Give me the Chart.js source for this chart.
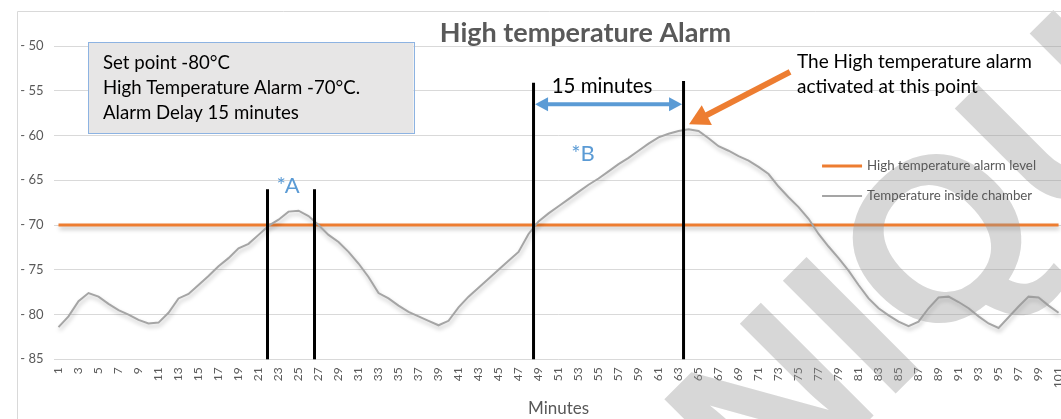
<!DOCTYPE html>
<html>
<head>
<meta charset="utf-8">
<script src="https://cdn.jsdelivr.net/npm/chart.js@4.4.1/dist/chart.umd.min.js"></script>
<style>
  html, body { margin: 0; padding: 0; background: #fff; overflow: hidden; }
  #wrap { width: 1061px; height: 419px; overflow: hidden; position: relative; }
  #chart { position: absolute; left: 0; top: 0; }
</style>
</head>
<body>
<div id="wrap"><canvas id="chart" width="1081" height="419"></canvas></div>
<script>
const minutes = [
  1, 2, 3, 4, 5, 6, 7, 8, 9, 10, 11, 12, 13, 14, 15, 16, 17, 18, 19, 20,
  21, 22, 23, 24, 25, 26, 27, 28, 29, 30, 31, 32, 33, 34, 35, 36, 37, 38, 39, 40,
  41, 42, 43, 44, 45, 46, 47, 48, 49, 50, 51, 52, 53, 54, 55, 56, 57, 58, 59, 60,
  61, 62, 63, 64, 65, 66, 67, 68, 69, 70, 71, 72, 73, 74, 75, 76, 77, 78, 79, 80,
  81, 82, 83, 84, 85, 86, 87, 88, 89, 90, 91, 92, 93, 94, 95, 96, 97, 98, 99, 100,
  101
];

const chamberTemp = [
  -81.4, -80.2, -78.5, -77.6, -78.0, -78.8, -79.5, -80.0, -80.6, -81.0,
  -80.9, -79.8, -78.2, -77.7, -76.7, -75.7, -74.6, -73.7, -72.6, -72.1,
  -71.1, -70.1, -69.4, -68.5, -68.4, -69.0, -70.0, -71.1, -71.9, -73.0,
  -74.3, -75.8, -77.6, -78.2, -79.0, -79.7, -80.2, -80.7, -81.2, -80.7,
  -79.2, -78.0, -77.0, -76.0, -75.0, -74.0, -73.0, -71.0, -69.6, -68.7,
  -67.9, -67.1, -66.3, -65.5, -64.8, -64.0, -63.2, -62.5, -61.7, -60.9,
  -60.2, -59.8, -59.5, -59.3, -59.5, -60.3, -61.2, -61.7, -62.3, -62.8,
  -63.5, -64.3, -65.7, -66.9, -68.0, -69.3, -71.0, -72.4, -73.7, -75.1,
  -76.7, -78.2, -79.3, -80.1, -80.8, -81.3, -80.8, -79.3, -78.1, -78.0,
  -78.6, -79.3, -80.2, -81.0, -81.5, -80.3, -79.1, -78.0, -78.1, -79.0,
  -79.8
];

const alarmLevel = [
  -70, -70, -70, -70, -70, -70, -70, -70, -70, -70,
  -70, -70, -70, -70, -70, -70, -70, -70, -70, -70,
  -70, -70, -70, -70, -70, -70, -70, -70, -70, -70,
  -70, -70, -70, -70, -70, -70, -70, -70, -70, -70,
  -70, -70, -70, -70, -70, -70, -70, -70, -70, -70,
  -70, -70, -70, -70, -70, -70, -70, -70, -70, -70,
  -70, -70, -70, -70, -70, -70, -70, -70, -70, -70,
  -70, -70, -70, -70, -70, -70, -70, -70, -70, -70,
  -70, -70, -70, -70, -70, -70, -70, -70, -70, -70,
  -70, -70, -70, -70, -70, -70, -70, -70, -70, -70,
  -70
];

// marker lines: minute position and top temperature (they run down to the axis floor)
const markerMinutes = [21.9, 26.6, 48.5, 63.5];
const markerTops = [-66.0, -66.0, -54.1, -53.9];

const infoLines = ["Set point -80°C", "High Temperature Alarm -70°C.", "Alarm Delay 15 minutes"];
const calloutLines = ["The High temperature alarm", "activated at this point"];

const ORANGE = "#ED7D31";
const GREY = "#A5A5A5";
const BLUE = "#5B9BD5";
const TEXT = "#595959";

function arrowHead(ctx, tipX, tipY, angle, len, half) {
  ctx.beginPath();
  ctx.moveTo(tipX, tipY);
  ctx.lineTo(tipX - len * Math.cos(angle) + half * Math.sin(angle), tipY - len * Math.sin(angle) - half * Math.cos(angle));
  ctx.lineTo(tipX - len * Math.cos(angle) - half * Math.sin(angle), tipY - len * Math.sin(angle) + half * Math.cos(angle));
  ctx.closePath();
  ctx.fill();
}

const lineShadow = {
  id: "lineShadow",
  beforeDatasetDraw(chart) {
    const ctx = chart.ctx;
    ctx.save();
    ctx.shadowColor = "rgba(0,0,0,0.25)";
    ctx.shadowBlur = 4;
    ctx.shadowOffsetX = 1;
    ctx.shadowOffsetY = 3;
  },
  afterDatasetDraw(chart) {
    chart.ctx.restore();
  }
};

const notes = {
  id: "notes",
  afterDatasetsDraw(chart) {
    const { ctx, scales: { x, y } } = chart;
    const px = (m) => x.getPixelForValue(m - 1);
    const py = (v) => y.getPixelForValue(v);

    // watermark
    ctx.save();
    const wmSize = 232;
    ctx.font = "bold " + wmSize + "px 'Liberation Sans'";
    ctx.fillStyle = "rgba(150,150,150,0.38)";
    const wm = "NIQUE";
    const dx = ctx.measureText("NI").width + ctx.measureText("Q").width / 2;
    ctx.translate(935, 236);
    ctx.rotate(-Math.PI / 4);
    ctx.textAlign = "left";
    ctx.textBaseline = "alphabetic";
    ctx.fillText(wm, -dx, 0.36 * wmSize);
    ctx.restore();

    // vertical marker lines
    ctx.save();
    ctx.strokeStyle = "#000";
    ctx.lineWidth = 3;
    markerMinutes.forEach((m, i) => {
      ctx.beginPath();
      ctx.moveTo(px(m), py(markerTops[i]));
      ctx.lineTo(px(m), py(-85));
      ctx.stroke();
    });
    ctx.restore();

    // 15 minute double arrow
    ctx.save();
    const ax1 = px(48.65), ax2 = px(63.35), ay = py(-56.5);
    ctx.strokeStyle = BLUE;
    ctx.fillStyle = BLUE;
    ctx.lineWidth = 4;
    ctx.beginPath();
    ctx.moveTo(ax1 + 10, ay);
    ctx.lineTo(ax2 - 10, ay);
    ctx.stroke();
    arrowHead(ctx, ax1, ay, Math.PI, 13, 7);
    arrowHead(ctx, ax2, ay, 0, 13, 7);
    ctx.fillStyle = "#000";
    ctx.font = "20.5px Lato";
    ctx.textAlign = "center";
    ctx.textBaseline = "middle";
    ctx.fillText("15 minutes", px(55.35), py(-54.5));
    ctx.restore();

    // orange callout arrow
    ctx.save();
    const sx = px(74.15), sy = py(-52.9), tx = px(64.05), ty = py(-58.75);
    const ang = Math.atan2(ty - sy, tx - sx);
    ctx.strokeStyle = ORANGE;
    ctx.fillStyle = ORANGE;
    ctx.lineWidth = 6;
    ctx.beginPath();
    ctx.moveTo(sx, sy);
    ctx.lineTo(tx - 16 * Math.cos(ang), ty - 16 * Math.sin(ang));
    ctx.stroke();
    arrowHead(ctx, tx, ty, ang, 20, 11);
    ctx.fillStyle = "#000";
    ctx.font = "19px Lato";
    ctx.textBaseline = "middle";
    ctx.fillText(calloutLines[0], px(74.85), py(-51.8));
    ctx.fillText(calloutLines[1], px(74.85), py(-54.6));
    ctx.restore();

    // *A and *B labels
    ctx.save();
    ctx.fillStyle = BLUE;
    ctx.font = "22px Lato";
    ctx.textAlign = "center";
    ctx.textBaseline = "middle";
    ctx.fillText("*A", px(23.95), py(-65.6));
    ctx.fillText("*B", px(53.45), py(-62.1));
    ctx.restore();

    // info box
    ctx.save();
    const bx = px(3.95), by = py(-49.6), bw = px(36.5) - bx, bh = py(-59.77) - by;
    ctx.fillStyle = "#E7E6E6";
    ctx.fillRect(bx, by, bw, bh);
    ctx.strokeStyle = "#8DB3E2";
    ctx.lineWidth = 1;
    ctx.strokeRect(Math.round(bx) + 0.5, Math.round(by) + 0.5, Math.round(bw), Math.round(bh));
    ctx.fillStyle = "#000";
    ctx.font = "18.6px Lato";
    ctx.textBaseline = "middle";
    const lineVals = [-51.9, -54.7, -57.5];
    infoLines.forEach((t, i) => ctx.fillText(t, px(5.45), py(lineVals[i])));
    ctx.restore();

    // legend
    ctx.save();
    const items = [
      { text: chart.data.datasets[1].label, color: ORANGE, v: -63.4, w: 3 },
      { text: chart.data.datasets[0].label, color: GREY, v: -66.75, w: 2 }
    ];
    ctx.font = "13.3px Lato";
    ctx.textBaseline = "middle";
    items.forEach((it) => {
      ctx.strokeStyle = it.color;
      ctx.lineWidth = it.w;
      ctx.beginPath();
      ctx.moveTo(px(77.35), py(it.v));
      ctx.lineTo(px(81.35), py(it.v));
      ctx.stroke();
      ctx.fillStyle = TEXT;
      ctx.fillText(it.text, px(81.85), py(it.v));
    });
    ctx.restore();
  },
  afterDraw(chart) {
    const ctx = chart.ctx;
    ctx.save();
    // chart frame
    ctx.strokeStyle = "#D9D9D9";
    ctx.lineWidth = 1;
    ctx.beginPath();
    ctx.moveTo(17.5, 419);
    ctx.lineTo(17.5, 11.5);
    ctx.lineTo(1081, 11.5);
    ctx.stroke();
    // title
    ctx.fillStyle = TEXT;
    ctx.font = "bold 27px Lato";
    ctx.textAlign = "center";
    ctx.textBaseline = "middle";
    ctx.fillText("High temperature Alarm", 585.5, 33);
    ctx.restore();
  }
};

const ctx = document.getElementById("chart").getContext("2d");
const chart = new Chart(ctx, {
  type: "line",
  data: {
    labels: minutes,
    datasets: [
      {
        label: "Temperature inside chamber",
        data: chamberTemp,
        borderColor: GREY,
        borderWidth: 2,
        pointRadius: 0,
        tension: 0,
        fill: false
      },
      {
        label: "High temperature alarm level",
        data: alarmLevel,
        borderColor: ORANGE,
        borderWidth: 3,
        pointRadius: 0,
        tension: 0,
        fill: false
      }
    ]
  },
  options: {
    responsive: false,
    animation: false,
    layout: { padding: { top: 46, right: 6.5, left: 0, bottom: 0 } },
    plugins: {
      legend: { display: false },
      tooltip: { enabled: false },
      title: { display: false }
    },
    scales: {
      x: {
        offset: true,
        grid: { display: false, drawTicks: false },
        border: { display: false },
        ticks: {
          autoSkip: false,
          minRotation: 90,
          maxRotation: 90,
          padding: 8,
          color: TEXT,
          font: { family: "Lato", size: 12 },
          callback: function (v, i) {
            return i % 2 === 0 ? this.getLabelForValue(v) : "";
          }
        },
        title: {
          display: true,
          text: "Minutes",
          color: TEXT,
          font: { family: "Lato", size: 17 },
          padding: { top: 0, bottom: 0 }
        },
        afterFit(scale) {
          scale.height = 419 - 359.3;
        }
      },
      y: {
        min: -85,
        max: -50,
        ticks: {
          stepSize: 5,
          padding: 10,
          color: TEXT,
          font: { family: "Lato", size: 13 },
          callback: (v) => "- " + Math.abs(v)
        },
        grid: { color: "#D9D9D9", lineWidth: 1, drawTicks: false },
        border: { display: false },
        afterFit(scale) {
          scale.width = 53.5;
        }
      }
    }
  },
  plugins: [lineShadow, notes]
});
</script>
</body>
</html>
